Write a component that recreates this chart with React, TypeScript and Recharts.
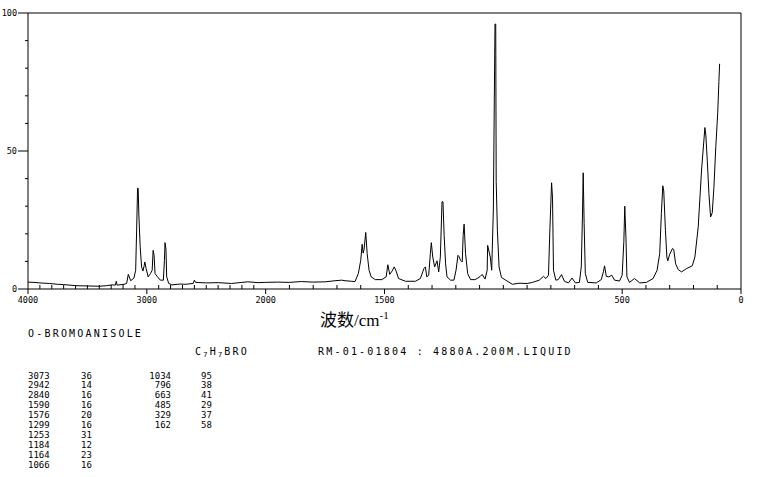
import { Line, LineChart, ReferenceLine, XAxis, YAxis } from "recharts"

// Raman spectrum, o-bromoanisole (wavenumber cm-1 -> relative intensity)
const wavenumbers = [
  4000, 3950, 3900, 3819, 3750, 3700, 3596, 3500, 3401, 3340, 3292, 3265, 3257, 3250, 3192, 3170,
  3156, 3136, 3108, 3094, 3086, 3078, 3073, 3067, 3056, 3044, 3033, 3022, 3017, 3006, 2989, 2969,
  2955, 2947, 2939, 2931, 2914, 2886, 2861, 2852, 2847, 2839, 2833, 2816, 2789, 2720, 2677, 2610,
  2600, 2590, 2500, 2400, 2287, 2200, 2150, 2064, 2000,
  1950, 1900, 1850, 1800, 1750, 1708, 1680, 1666, 1640, 1624, 1610, 1600, 1594, 1590, 1586, 1579,
  1573, 1565, 1556, 1539, 1511, 1493, 1486, 1478, 1468, 1459, 1451, 1441, 1412, 1370, 1349, 1339,
  1334, 1328, 1322, 1314, 1307, 1303, 1297, 1289, 1279, 1272, 1265, 1258, 1254, 1249, 1243, 1237,
  1222, 1208, 1199, 1191, 1187, 1180, 1173, 1169, 1165, 1159, 1150, 1138, 1120, 1110, 1098, 1089,
  1077, 1068, 1066, 1055, 1049, 1042, 1038, 1035, 1032, 1030, 1025, 1018, 1008, 990, 962, 934,
  900, 877, 849, 831, 821, 810, 804, 797, 793, 789, 779, 769, 755, 743, 726, 711,
  697, 680, 672, 667, 664, 660, 655, 645, 609, 588, 579, 574, 567, 556, 544, 532,
  511, 500, 493, 489, 484, 480, 469, 448, 426, 398, 370, 353, 342, 335, 329, 325,
  318, 312, 308, 300, 288, 283, 275, 264, 250, 229, 205, 194, 180, 166, 156, 152,
  148, 142, 135, 128, 121, 114, 106, 98, 93, 90,
]
const intensities = [
  2.5, 2.4, 2.2, 2.0, 1.7, 1.6, 1.2, 1.1, 1.0, 1.2, 1.5, 1.4, 2.8, 1.4, 1.7, 2.0,
  5.3, 3.0, 4.0, 6.8, 21, 36.5, 36.5, 26.8, 15.3, 8.0, 6.5, 8.5, 9.8, 7.4, 4.4, 5.6,
  6.8, 14, 12.2, 5.6, 4.6, 3.2, 3.2, 10.4, 16.8, 14.5, 4.4, 2.0, 1.5, 1.8, 1.7, 2.0,
  3.2, 2.4, 2.2, 2.3, 2.0, 2.4, 2.6, 2.3, 2.4,
  2.5, 2.4, 2.7, 2.5, 2.6, 3.0, 3.2, 3.0, 2.8, 2.7, 5.6, 10.4, 16.2, 13.0, 14.3, 20.5,
  12.9, 6.8, 4.4, 3.4, 3.4, 4.4, 8.8, 5.3, 6.5, 8.0, 6.5, 3.8, 2.8, 2.8, 3.8, 6.2,
  7.4, 8.0, 4.4, 5.0, 12.9, 16.8, 11.6, 8.0, 10.2, 6.2, 11.6, 31.6, 31.6, 19.4, 9.1, 4.4,
  3.2, 3.2, 6.8, 12.2, 11.8, 10.4, 9.8, 19.4, 23.5, 12.9, 5.6, 3.4, 3.4, 3.8, 4.5, 5.3,
  3.6, 6.8, 15.8, 11.6, 6.8, 28.6, 68.5, 96, 96, 38.9, 21.3, 8.0, 4.2, 3.2, 1.7, 2.1,
  2.0, 2.4, 3.2, 4.6, 3.8, 5.0, 21.9, 38.5, 33, 6.8, 3.2, 3.4, 5.2, 2.8, 2.2, 4.0,
  2.2, 2.4, 8.0, 26.8, 42.1, 23.7, 5.6, 2.4, 2.2, 3.4, 6.2, 8.4, 4.6, 4.4, 5.0, 3.2,
  2.9, 5.0, 17.2, 30, 18.4, 4.4, 2.4, 3.8, 2.2, 2.4, 3.8, 6.8, 12.9, 27.4, 37.4, 35.5,
  21.3, 11.6, 10.2, 12.6, 14.7, 14.3, 9.1, 7.0, 6.2, 7.4, 8.4, 11.6, 22.5, 43.1, 54, 58.5,
  55.8, 46.7, 34.6, 26.1, 27.6, 36.7, 51.6, 63.7, 75.2, 81.6,
]

const peakWavenumbers = [3073, 2942, 2840, 1590, 1576, 1299, 1253, 1184, 1164, 1066, 1034, 796, 663, 485, 329, 162]
const peakIntensities = [36, 14, 16, 16, 20, 16, 31, 12, 23, 16, 95, 38, 41, 29, 37, 58]

const xLabels = [4000, 3000, 2000, 1500, 500, 0]
const yLabels = [0, 50, 100]

const title = "O-BROMOANISOLE"
const source = "RM-01-01804 : 4880A.200M.LIQUID"

// the axis is drawn at half scale above 2000 cm-1
const BREAK = 2000
const fold = (v: number) => (v > BREAK ? BREAK + (v - BREAK) / 2 : v)
const unfold = (t: number) => (t > BREAK ? BREAK + (t - BREAK) * 2 : t)

const data = wavenumbers.map((v, i) => ({ t: fold(v), y: intensities[i] }))

const xTicks: number[] = []
for (let v = 0; v <= 4000; v += 100) xTicks.push(fold(v))
const yTicks: number[] = []
for (let v = 0; v <= 100; v += 10) yTicks.push(v)

const mono = "'DejaVu Sans Mono', monospace"

function XTick(props: any) {
  const { x, y, payload } = props
  const v = Math.round(unfold(payload.value))
  const major = xLabels.includes(v)
  if (!major) return <line x1={x} x2={x} y1={y} y2={y - 4} stroke="#000" />
  return (
    <g>
      <line x1={x} x2={x} y1={y} y2={y + 5} stroke="#000" />
      <text x={x} y={y + 14} textAnchor="middle" fontFamily={mono} fontSize={8.5} fill="#000">
        {v}
      </text>
    </g>
  )
}

function YTick(props: any) {
  const { x, y, payload } = props
  const major = yLabels.includes(payload.value)
  if (!major) return <line x1={x} x2={x - 3} y1={y} y2={y} stroke="#000" />
  return (
    <g>
      <line x1={x} x2={x - 10} y1={y} y2={y} stroke="#000" />
      <text x={x - 11} y={y + 3} textAnchor="end" fontFamily={mono} fontSize={8.5} fill="#000">
        {payload.value}
      </text>
    </g>
  )
}

export default function App() {
  const rowH = 9.93
  const firstCol = peakWavenumbers.slice(0, 10)
  const secondCol = peakWavenumbers.slice(10)
  return (
    <div style={{ position: "absolute", left: 0, top: 0, width: 765, height: 477, background: "#fff" }}>
      <LineChart width={765} height={310} data={data} margin={{ top: 13, right: 24, bottom: 1, left: 0 }}>
        <XAxis
          dataKey="t"
          type="number"
          domain={[0, 3000]}
          reversed
          ticks={xTicks}
          interval={0}
          tickSize={0}
          tickMargin={0}
          tick={<XTick />}
          axisLine={{ stroke: "#000" }}
          height={20}
        />
        <YAxis
          type="number"
          domain={[0, 100]}
          ticks={yTicks}
          interval={0}
          tickSize={0}
          tickMargin={0}
          tick={<YTick />}
          axisLine={{ stroke: "#000" }}
          width={28}
        />
        <ReferenceLine y={100} stroke="#000" />
        <ReferenceLine x={0} stroke="#000" />
        <Line dataKey="y" type="linear" stroke="#000" strokeWidth={1} dot={false} isAnimationActive={false} />
      </LineChart>
      <svg width={765} height={477} style={{ position: "absolute", left: 0, top: 0, pointerEvents: "none" }}>
        <text x={320} y={326} fontFamily="'Liberation Serif', 'Noto Sans CJK SC', serif" fontSize={17} fill="#000">
          波数/cm<tspan fontSize={11} dy={-7}>-1</tspan>
        </text>
        <text x={28} y={337} fontFamily={mono} fontSize={10} letterSpacing={2.2} fill="#000">
          {title}
        </text>
        <text x={195} y={355} fontFamily={mono} fontSize={10} letterSpacing={2.2} fill="#000">
          C<tspan fontSize={7} dy={2}>7</tspan>
          <tspan dy={-2}>H</tspan>
          <tspan fontSize={7} dy={2}>7</tspan>
          <tspan dy={-2}>BRO</tspan>
        </text>
        <text x={318} y={355} fontFamily={mono} fontSize={10} letterSpacing={2.2} fill="#000">
          {source}
        </text>
        {firstCol.map((w, i) => (
          <g key={"a" + w}>
            <text x={28} y={378.5 + i * rowH} fontFamily={mono} fontSize={9} fill="#000">
              {w}
            </text>
            <text x={81} y={378.5 + i * rowH} fontFamily={mono} fontSize={9} fill="#000">
              {peakIntensities[i]}
            </text>
          </g>
        ))}
        {secondCol.map((w, i) => (
          <g key={"b" + w}>
            <text x={171} y={378.5 + i * rowH} textAnchor="end" fontFamily={mono} fontSize={9} fill="#000">
              {w}
            </text>
            <text x={201} y={378.5 + i * rowH} fontFamily={mono} fontSize={9} fill="#000">
              {peakIntensities[i + 10]}
            </text>
          </g>
        ))}
      </svg>
    </div>
  )
}
